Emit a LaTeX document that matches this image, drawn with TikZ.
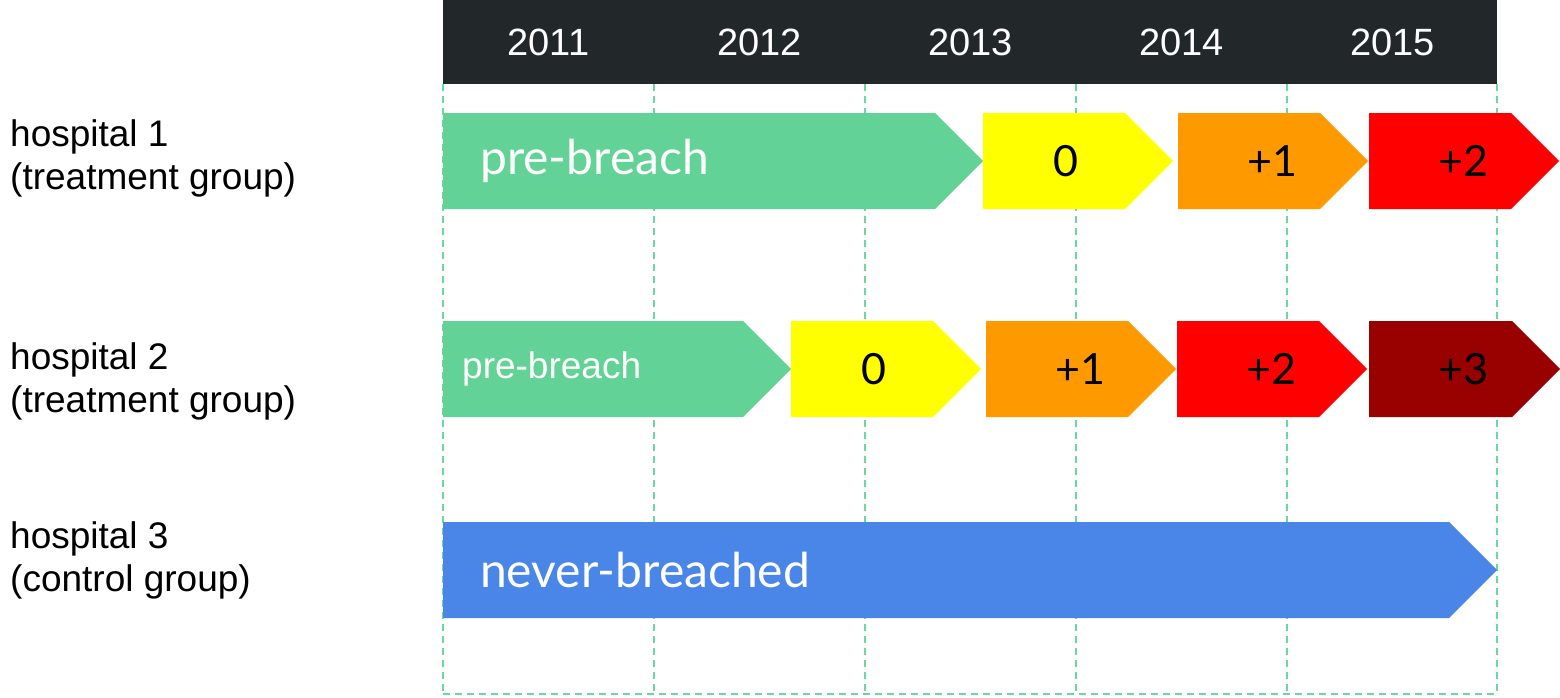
\documentclass[tikz,border=0pt]{standalone}
\usepackage{fontspec}
\setmainfont{Liberation Sans}
\newfontfamily\stagefont{Lato}
\usetikzlibrary{shapes.symbols,positioning}
\definecolor{headbg}{RGB}{34,40,42}
\definecolor{prebreach}{RGB}{99,210,151}
\definecolor{gridgreen}{RGB}{110,214,160}
\definecolor{zeroyr}{RGB}{255,255,0}
\definecolor{plusone}{RGB}{255,153,0}
\definecolor{plustwo}{RGB}{255,0,0}
\definecolor{plusthree}{RGB}{153,0,0}
\definecolor{neverb}{RGB}{74,134,232}
\tikzstyle{stage} = [signal, signal to=east, signal pointer angle=90,
    minimum height=96pt, inner sep=0pt, anchor=west, draw=none]
\tikzset{postbox/.style={stage, minimum width=190pt,
    font=\stagefont\fontsize{43}{43}\selectfont, execute at begin node={\hspace*{#1}}},
    postbox/.default=46pt}
\tikzstyle{prebox} = [stage, inner xsep=37pt, align=left, text=white,
    font=\stagefont\fontsize{48}{48}\selectfont]
\tikzstyle{hospital} = [anchor=north west, inner sep=0pt, align=left,
    font=\fontsize{37}{43}\selectfont]
\tikzstyle{yearlabel} = [text=white, inner sep=0pt, font=\fontsize{38}{38}\selectfont]
\tikzstyle{gridline} = [draw=gridgreen, line width=1.5pt, dash pattern=on 7pt off 5pt]

\begin{document}
\begin{tikzpicture}[x=1pt,y=-1pt]
    \useasboundingbox (0,0) rectangle (1560,697);
    % Year grid
    \foreach \x in {443,654,865,1076,1287,1497}
        \draw[gridline] (\x,84) -- (\x,694);
    \draw[gridline] (443,694) -- (1497,694);
    \node[fill=headbg, anchor=north west, inner sep=0pt, minimum width=1054pt, minimum height=84pt] (header) at (443,0) {};
    \foreach \yr [count=\i from 0] in {2011,2012,2013,2014,2015}
        \node[yearlabel] (year\yr) at (548.5+211*\i,42) {\yr};

    % Place hospitals
    \node[hospital] (hosp1) at (10,119) {hospital 1\\(treatment group)};
    \node[hospital] (hosp2) at (10,342) {hospital 2\\(treatment group)};
    \node[hospital] (hosp3) at (10,521) {hospital 3\\(control group)};

    % Hospital 1
    \node[prebox, fill=prebreach, text width=418pt] (pre1) at (443,161) {pre-breach};
    \node[postbox=24pt, fill=zeroyr] (zero1) at (983,161) {0};
    \node[postbox, fill=plusone] (one1) at (1178,161) {+1};
    \node[postbox, fill=plustwo] (two1) at (1369,161) {+2};

    % Hospital 2
    \node[prebox, fill=prebreach, inner xsep=19pt, text width=262pt, font=\fontsize{37}{37}\selectfont] (pre2) at (443,369) {pre-breach};
    \node[postbox=24pt, fill=zeroyr] (zero2) at (791,369) {0};
    \node[postbox, fill=plusone] (one2) at (986,369) {+1};
    \node[postbox, fill=plustwo] (two2) at (1177,369) {+2};
    \node[postbox, fill=plusthree, minimum width=191pt] (three2) at (1369,369) {+3};

    % Hospital 3
    \node[prebox, fill=neverb, text width=932pt] (never3) at (443,570) {never-breached};
\end{tikzpicture}
\end{document}
